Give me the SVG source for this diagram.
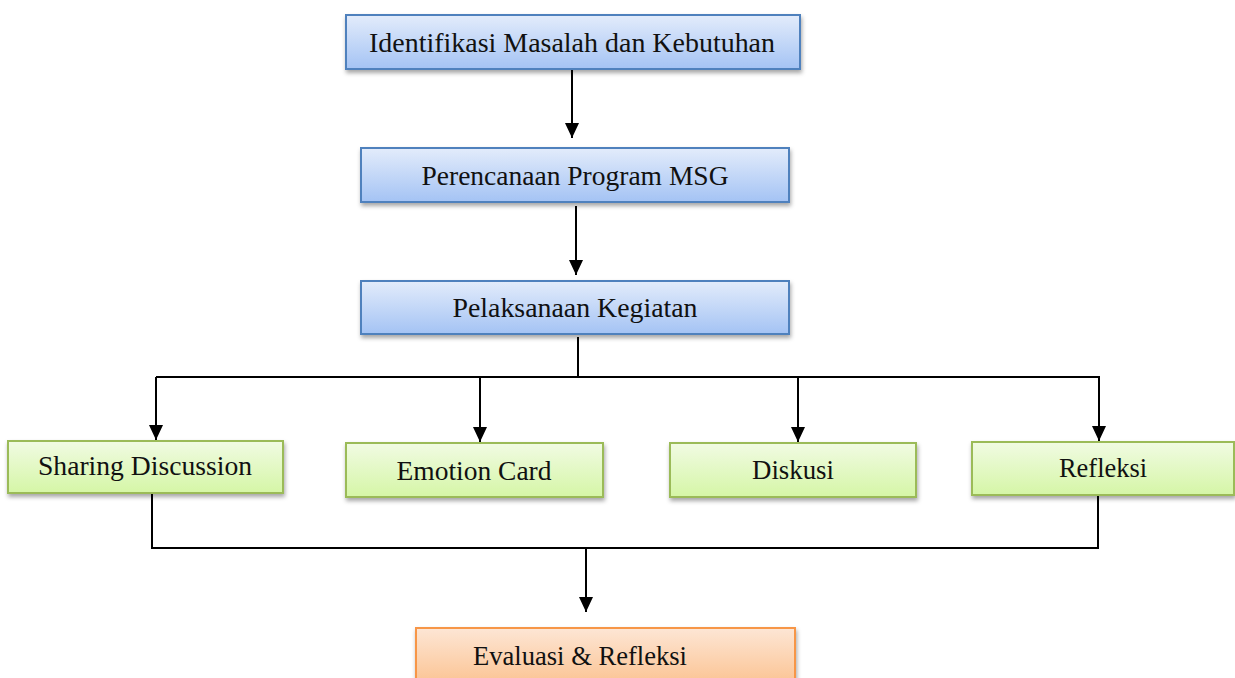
<svg xmlns="http://www.w3.org/2000/svg" width="1235" height="678" viewBox="0 0 1235 678">
<style>
.lbl{font-family:"Liberation Serif","Times New Roman",serif;font-size:28px;fill:#111;text-anchor:middle}
.conn{stroke:#000;stroke-width:2;fill:none}
.blue{fill:url(#gBlue);stroke:#4f81bd;stroke-width:2}
.green{fill:url(#gGreen);stroke:#9bbb59;stroke-width:2}
.orange{fill:url(#gOrange);stroke:#f79646;stroke-width:2}
</style>
<defs>
<linearGradient id="gBlue" x1="0" y1="0" x2="0" y2="1"><stop offset="0" stop-color="#e3ecfb"/><stop offset="1" stop-color="#a4c3f4"/></linearGradient>
<linearGradient id="gGreen" x1="0" y1="0" x2="0" y2="1"><stop offset="0" stop-color="#f1fbe3"/><stop offset="1" stop-color="#d5f6a6"/></linearGradient>
<linearGradient id="gOrange" x1="0" y1="0" x2="0" y2="1"><stop offset="0" stop-color="#fde6d5"/><stop offset="1" stop-color="#fbc08c"/></linearGradient>
<filter id="sh" x="-5%" y="-20%" width="110%" height="150%"><feDropShadow dx="1" dy="3" stdDeviation="2" flood-color="#000" flood-opacity="0.35"/></filter>
<marker id="arr" viewBox="0 0 15 14" refX="15" refY="7" markerWidth="15" markerHeight="14" markerUnits="userSpaceOnUse" orient="auto"><path d="M0,0 L15,7 L0,14 z" fill="#000"/></marker>
</defs>
<g id="connectors">
<line class="conn" x1="572" y1="69" x2="572" y2="138" marker-end="url(#arr)"/>
<line class="conn" x1="576" y1="206" x2="576" y2="275" marker-end="url(#arr)"/>
<line class="conn" x1="578" y1="337" x2="578" y2="377"/>
<polyline class="conn" points="156,377 1099,377"/>
<line class="conn" x1="156" y1="377" x2="156" y2="440" marker-end="url(#arr)"/>
<line class="conn" x1="480" y1="377" x2="480" y2="442" marker-end="url(#arr)"/>
<line class="conn" x1="798" y1="377" x2="798" y2="442" marker-end="url(#arr)"/>
<line class="conn" x1="1099" y1="376" x2="1099" y2="441" marker-end="url(#arr)"/>
<polyline class="conn" points="152,493 152,548 1098,548 1098,495"/>
<line class="conn" x1="586" y1="548" x2="586" y2="612" marker-end="url(#arr)"/>
</g>
<g id="n1"><rect class="blue" x="346" y="15" width="454" height="54" filter="url(#sh)"/><text class="lbl" x="572" y="52" textLength="406" lengthAdjust="spacingAndGlyphs">Identifikasi Masalah dan Kebutuhan</text></g>
<g id="n2"><rect class="blue" x="361" y="148" width="428" height="54" filter="url(#sh)"/><text class="lbl" x="575" y="185" textLength="307" lengthAdjust="spacingAndGlyphs">Perencanaan Program MSG</text></g>
<g id="n3"><rect class="blue" x="361" y="281" width="428" height="53" filter="url(#sh)"/><text class="lbl" x="575" y="317" textLength="245" lengthAdjust="spacingAndGlyphs">Pelaksanaan Kegiatan</text></g>
<g id="n4"><rect class="green" x="8" y="441" width="275" height="52" filter="url(#sh)"/><text class="lbl" x="145" y="475" textLength="214" lengthAdjust="spacingAndGlyphs">Sharing Discussion</text></g>
<g id="n5"><rect class="green" x="346" y="443" width="257" height="54" filter="url(#sh)"/><text class="lbl" x="474" y="480" textLength="155" lengthAdjust="spacingAndGlyphs">Emotion Card</text></g>
<g id="n6"><rect class="green" x="670" y="443" width="246" height="54" filter="url(#sh)"/><text class="lbl" x="793" y="479" textLength="82" lengthAdjust="spacingAndGlyphs">Diskusi</text></g>
<g id="n7"><rect class="green" x="972" y="442" width="262" height="53" filter="url(#sh)"/><text class="lbl" x="1103" y="477" textLength="88" lengthAdjust="spacingAndGlyphs">Refleksi</text></g>
<g id="n8"><rect class="orange" x="416" y="628" width="379" height="62" filter="url(#sh)"/><text class="lbl" x="580" y="665" textLength="214" lengthAdjust="spacingAndGlyphs">Evaluasi &amp; Refleksi</text></g>
</svg>
